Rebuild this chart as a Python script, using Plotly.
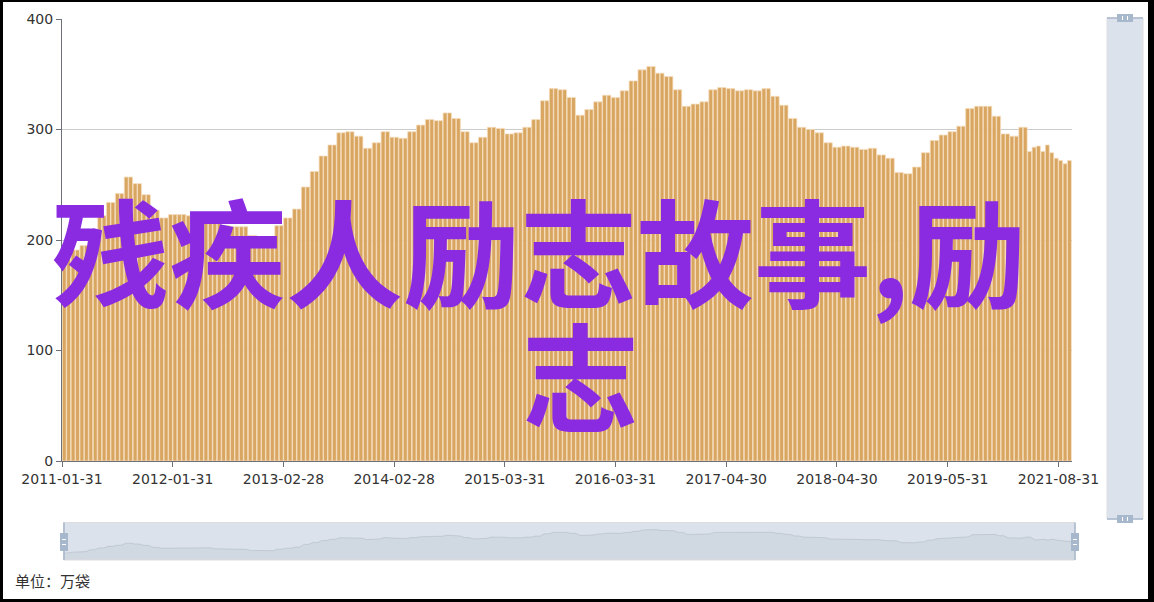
import plotly.graph_objects as go

W, H = 1154, 602

# ---- data ----
tick_labels = ["2011-01-31", "2012-01-31", "2013-02-28", "2014-02-28", "2015-03-31",
               "2016-03-31", "2017-04-30", "2018-04-30", "2019-05-31", "2021-08-31"]
tick_index = [0, 25, 50, 75, 100, 125, 150, 175, 200, 225]

values = [
    185, 185, 191, 191, 195, 195, 209, 209, 222, 222, 234, 234, 242, 242, 257, 257,
    251, 251, 241, 241, 227, 227, 220, 220, 223, 223, 223, 223, 222, 222, 222, 222,
    223, 223, 216, 216, 213, 213, 212, 212, 212, 212, 204, 204, 202, 202, 202, 202,
    213, 213, 220, 220, 228, 228, 248, 248, 262, 262, 276, 276, 286, 286, 297, 297,
    298, 298, 294, 294, 283, 283, 288, 288, 298, 298, 293, 293, 292, 292, 298, 298,
    304, 304, 309, 309, 308, 308, 315, 315, 310, 310, 298, 298, 288, 288, 293, 293,
    302, 302, 301, 301, 296, 296, 297, 297, 302, 302, 309, 309, 326, 326, 337, 337,
    336, 336, 329, 329, 313, 313, 318, 318, 325, 325, 331, 331, 329, 329, 335, 335,
    344, 344, 354, 354, 357, 357, 351, 351, 348, 348, 336, 336, 321, 321, 323, 323,
    325, 325, 336, 336, 338, 338, 337, 337, 335, 335, 336, 336, 335, 335, 337, 337,
    330, 330, 322, 322, 310, 310, 302, 302, 300, 300, 297, 297, 288, 288, 284, 284,
    285, 285, 284, 284, 282, 282, 283, 283, 277, 277, 274, 274, 261, 261, 260, 260,
    266, 266, 279, 279, 290, 290, 295, 295, 298, 298, 303, 303, 319, 319, 321, 321,
    321, 321, 312, 312, 296, 296, 294, 294, 302, 302,
    280, 284, 285, 280, 286, 279, 274, 272, 269, 272,
]

N = len(values)
xs = list(range(N))


def fx(p):
    return p / W


def fy(p):
    return 1 - p / H


BAR = "#d9a662"
HANDLE = "#a7b7cc"
FILLER = "rgba(167,183,204,0.4)"

fig = go.Figure()

fig.add_trace(go.Bar(
    x=xs, y=values, xaxis="x", yaxis="y",
    marker=dict(color=BAR, line=dict(color="rgba(246,222,190,0.95)", width=0.8)),
    hoverinfo="skip", showlegend=False,
))

# data shadow inside the bottom slider
fig.add_trace(go.Scatter(
    x=xs, y=values, xaxis="x2", yaxis="y2", mode="lines",
    line=dict(color="rgba(47,69,84,0.3)", width=0.6),
    fill="tozeroy", fillcolor="rgba(47,69,84,0.09)",
    hoverinfo="skip", showlegend=False,
))

vmin, vmax = min(values), max(values)
pad = (vmax - vmin) * 0.3

shapes = []
# bottom slider
shapes.append(dict(type="rect", xref="paper", yref="paper",
                   x0=fx(63.5), x1=fx(1075), y0=fy(560), y1=fy(522.5),
                   fillcolor=FILLER, line=dict(color="#dddddd", width=1), layer="above"))
for hx in (64, 1075):
    shapes.append(dict(type="line", xref="paper", yref="paper",
                       x0=fx(hx), x1=fx(hx), y0=fy(560), y1=fy(522.5),
                       line=dict(color=HANDLE, width=1.5), layer="above"))
    shapes.append(dict(type="rect", xref="paper", yref="paper",
                       x0=fx(hx - 4), x1=fx(hx + 4), y0=fy(551), y1=fy(533),
                       fillcolor=HANDLE, line=dict(width=0), layer="above"))
    for ly in (539.5, 544.5):
        shapes.append(dict(type="line", xref="paper", yref="paper",
                           x0=fx(hx - 2), x1=fx(hx + 2), y0=fy(ly), y1=fy(ly),
                           line=dict(color="white", width=1), layer="above"))
# vertical slider on the right
shapes.append(dict(type="rect", xref="paper", yref="paper",
                   x0=fx(1107), x1=fx(1143), y0=fy(519), y1=fy(18),
                   fillcolor=FILLER, line=dict(color="#dddddd", width=1), layer="above"))
for hy in (18, 519):
    shapes.append(dict(type="line", xref="paper", yref="paper",
                       x0=fx(1107), x1=fx(1143), y0=fy(hy), y1=fy(hy),
                       line=dict(color=HANDLE, width=1.5), layer="above"))
    shapes.append(dict(type="rect", xref="paper", yref="paper",
                       x0=fx(1117), x1=fx(1133), y0=fy(hy + 4), y1=fy(hy - 4),
                       fillcolor=HANDLE, line=dict(width=0), layer="above"))
    for lx in (1122.5, 1127.5):
        shapes.append(dict(type="line", xref="paper", yref="paper",
                           x0=fx(lx), x1=fx(lx), y0=fy(hy + 2), y1=fy(hy - 2),
                           line=dict(color="white", width=1), layer="above"))
# black frame
for (x0, x1, y0, y1) in [(0, 3, 0, H), (1148, W, 0, H), (0, W, 0, 2), (0, W, 599, H)]:
    shapes.append(dict(type="rect", xref="paper", yref="paper",
                       x0=fx(x0), x1=fx(x1), y0=fy(y1), y1=fy(y0),
                       fillcolor="black", line=dict(width=0), layer="above"))

annotations = [
    dict(text="残疾人励志故事,励", xref="paper", yref="paper", x=fx(50), y=fy(247.5),
         xanchor="left", yanchor="middle", showarrow=False,
         font=dict(family="Noto Sans CJK SC", size=117, color="#8a2be2", weight="bold")),
    dict(text="志", xref="paper", yref="paper", x=fx(580), y=fy(372),
         xanchor="center", yanchor="middle", showarrow=False,
         font=dict(family="Noto Sans CJK SC", size=117, color="#8a2be2", weight="bold")),
    dict(text="单位：万袋", xref="paper", yref="paper", x=fx(13), y=fy(580),
         xanchor="left", yanchor="middle", showarrow=False,
         font=dict(family="Noto Sans CJK SC", size=15, color="#333333")),
]

fig.update_layout(
    width=W, height=H,
    margin=dict(l=0, r=0, t=0, b=0, autoexpand=False),
    paper_bgcolor="white", plot_bgcolor="white",
    font=dict(family="DejaVu Sans", size=14, color="#333333"),
    bargap=0.12,
    xaxis=dict(domain=[fx(62), fx(1071.7)], range=[-0.5, N - 0.5], anchor="y",
               automargin=False,
               tickmode="array", tickvals=[i - 0.5 for i in tick_index], ticktext=tick_labels,
               ticks="outside", ticklen=5, tickcolor="#6e7079", showline=True,
               linecolor="#6e7079", linewidth=1, showgrid=False, zeroline=False,
               tickfont=dict(size=14, color="#333333")),
    yaxis=dict(domain=[fy(461), fy(19)], range=[0, 400], dtick=100, anchor="x",
               automargin=False,
               showgrid=True, gridcolor="#cccccc", showline=True, linecolor="#6e7079",
               ticks="outside", ticklen=5, tickcolor="#6e7079", zeroline=False,
               tickfont=dict(size=14, color="#333333")),
    xaxis2=dict(domain=[fx(63.5), fx(1075)], range=[0, N - 1], anchor="y2", visible=False,
                automargin=False),
    yaxis2=dict(domain=[fy(560), fy(522.5)], range=[vmin - pad, vmax + pad], anchor="x2",
                visible=False, automargin=False),
    shapes=shapes,
    annotations=annotations,
)

fig.write_html(
    "out.html",
    config={"displayModeBar": False, "staticPlot": True},
    post_script="document.body.style.margin='0';document.body.style.overflow='hidden';",
)
